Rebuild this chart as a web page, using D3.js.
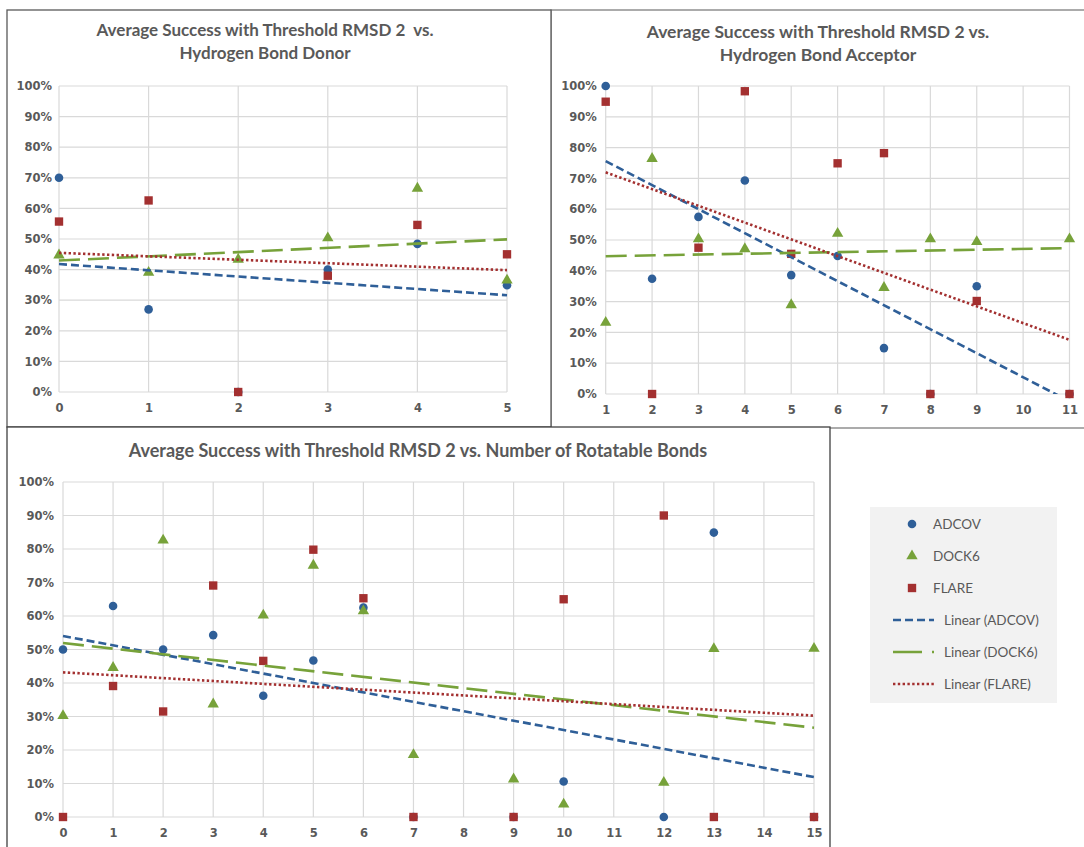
<!DOCTYPE html>
<html>
<head>
<meta charset="utf-8">
<script src="https://cdn.jsdelivr.net/npm/d3@7"></script>
<style>
  body { margin: 0; background: #fff; }
  svg { display: block; }
</style>
</head>
<body>
<svg id="chart" width="1084" height="847"></svg>
<script>
// values (percent)
var seriesNames = ["ADCOV", "DOCK6", "FLARE"];
var yTicks = [0, 10, 20, 30, 40, 50, 60, 70, 80, 90, 100];

var donorTicks = [0, 1, 2, 3, 4, 5];
var donorX = [0, 1, 2, 3, 4, 5];
var donorAdcov = [70, 27, 0, 40, 48.4, 34.9];
var donorDock6 = [44.4, 38.7, 43, 50, 66.2, 36.2];
var donorFlare = [55.7, 62.6, 0, 38, 54.6, 45];

var acceptorTicks = [1, 2, 3, 4, 5, 6, 7, 8, 9, 10, 11];
var acceptorX = [1, 2, 3, 4, 5, 6, 7, 8, 9, 11];
var acceptorAdcov = [100, 37.4, 57.5, 69.3, 38.6, 44.8, 14.9, 0, 35, 0];
var acceptorDock6 = [22.9, 76.1, 50, 46.8, 28.6, 51.8, 34.2, 50, 49.1, 50];
var acceptorFlare = [94.9, 0, 47.5, 98.3, 45.5, 74.9, 78.2, 0, 30.2, 0];

var rotTicks = [0, 1, 2, 3, 4, 5, 6, 7, 8, 9, 10, 11, 12, 13, 14, 15];
var rotX = [0, 1, 2, 3, 4, 5, 6, 7, 9, 10, 12, 13, 15];
var rotAdcov = [50, 63, 50, 54.3, 36.2, 46.7, 62.5, 0, 0, 10.6, 0, 84.9, 0];
var rotDock6 = [29.9, 44.3, 82.3, 33.4, 59.9, 74.8, 61.2, 18.3, 11, 3.5, 10, 49.9, 50];
var rotFlare = [0, 39.1, 31.5, 69.1, 46.6, 79.8, 65.3, 0, 0, 65, 90, 0, 0];

var colors = { ADCOV: "#2f5f98", DOCK6: "#77a23a", FLARE: "#a33030" };
var symbols = { ADCOV: d3.symbolCircle, DOCK6: d3.symbolTriangle, FLARE: d3.symbolSquare };
var symbolSizes = { ADCOV: 58, DOCK6: 56, FLARE: 70 };
var dashes = { ADCOV: "8,4", DOCK6: "21,8", FLARE: "2.4,2.4" };
var textGray = "#595959";

var svg = d3.select("#chart");

// panel frames
svg.append("rect").attr("x", 551).attr("y", 10).attr("width", 600).attr("height", 418)
  .attr("fill", "#fff").attr("stroke", "#7f7f7f").attr("stroke-width", 1.3);
svg.append("rect").attr("x", 7).attr("y", 10).attr("width", 544).attr("height", 417)
  .attr("fill", "#fff").attr("stroke", "#595959").attr("stroke-width", 1.3);
svg.append("rect").attr("x", 7).attr("y", 427).attr("width", 823).attr("height", 440)
  .attr("fill", "#fff").attr("stroke", "#404040").attr("stroke-width", 1.3);

function linReg(xs, ys) {
  var mx = d3.mean(xs), my = d3.mean(ys), sxy = 0, sxx = 0;
  xs.forEach(function(x, i) {
    sxy += (x - mx) * (ys[i] - my);
    sxx += (x - mx) * (x - mx);
  });
  var slope = sxy / sxx;
  return { slope: slope, intercept: my - slope * mx };
}

function drawPanel(cfg) {
  var x = d3.scaleLinear().domain(cfg.xDomain).range([cfg.left, cfg.right]);
  var y = d3.scaleLinear().domain([0, 100]).range([cfg.bottom, cfg.top]);
  var g = svg.append("g");

  // gridlines
  g.selectAll("line.hgrid").data(yTicks).enter().append("line")
    .attr("x1", cfg.left).attr("x2", cfg.right)
    .attr("y1", function(d) { return y(d); }).attr("y2", function(d) { return y(d); })
    .attr("stroke", "#d9d9d9").attr("stroke-width", 1.2);
  g.selectAll("line.vgrid").data(cfg.xTicks).enter().append("line")
    .attr("y1", cfg.top).attr("y2", cfg.bottom)
    .attr("x1", function(d) { return x(d); }).attr("x2", function(d) { return x(d); })
    .attr("stroke", "#d9d9d9").attr("stroke-width", 1.2);

  // axes (labels only)
  var yAxis = g.append("g").attr("transform", "translate(" + cfg.left + ",0)")
    .call(d3.axisLeft(y).tickValues(yTicks).tickSize(0).tickPadding(cfg.yPad)
      .tickFormat(function(d) { return d + "%"; }));
  var xAxis = g.append("g").attr("transform", "translate(0," + cfg.bottom + ")")
    .call(d3.axisBottom(x).tickValues(cfg.xTicks).tickSize(0).tickPadding(cfg.xPad)
      .tickFormat(d3.format("d")));
  [yAxis, xAxis].forEach(function(a) {
    a.select(".domain").remove();
    a.selectAll("text").attr("fill", textGray)
      .style("font-family", "'DejaVu Sans'").style("font-weight", "bold").style("font-size", "11.5px");
  });

  // title (keeps the double space of the original)
  var title = g.append("text").attr("text-anchor", "middle")
    .attr("fill", textGray).style("font-family", "Lato").style("font-weight", "bold")
    .style("font-size", cfg.titleSize + "px").style("white-space", "pre");
  cfg.title.forEach(function(line, i) {
    title.append("tspan").attr("x", cfg.titleX).attr("y", cfg.titleY + i * 23).text(line);
  });

  var clipId = "clip" + cfg.id;
  svg.append("clipPath").attr("id", clipId).append("rect")
    .attr("x", cfg.left - 6).attr("y", cfg.top - 6)
    .attr("width", cfg.right - cfg.left + 12).attr("height", cfg.bottom - cfg.top + 6);

  // markers
  seriesNames.forEach(function(name, si) {
    var vals = cfg.values[si];
    g.selectAll("path.m" + name).data(cfg.xs).enter().append("path")
      .attr("d", d3.symbol().type(symbols[name]).size(symbolSizes[name]))
      .attr("transform", function(d, i) {
        var dy = name === "DOCK6" ? 1 : 0;
        return "translate(" + x(d) + "," + (y(vals[i]) - dy) + ")";
      })
      .attr("fill", colors[name]);
  });

  // linear trendlines
  var lines = g.append("g").attr("clip-path", "url(#" + clipId + ")");
  seriesNames.forEach(function(name, si) {
    var r = linReg(cfg.xs, cfg.values[si]);
    var ends = d3.extent(cfg.xs);
    lines.append("line")
      .attr("x1", x(ends[0])).attr("y1", y(r.intercept + r.slope * ends[0]))
      .attr("x2", x(ends[1])).attr("y2", y(r.intercept + r.slope * ends[1]))
      .attr("stroke", colors[name]).attr("stroke-width", 2.6)
      .attr("stroke-dasharray", dashes[name]);
  });
}

drawPanel({
  id: 1, left: 59, right: 507, top: 86, bottom: 392, yPad: 7, xPad: 12,
  xDomain: [0, 5], xTicks: donorTicks, xs: donorX,
  values: [donorAdcov, donorDock6, donorFlare],
  title: ["Average Success with Threshold RMSD 2  vs.", "Hydrogen Bond Donor"],
  titleX: 265, titleY: 36, titleSize: 17
});

drawPanel({
  id: 2, left: 605.7, right: 1069.5, top: 86, bottom: 394, yPad: 9, xPad: 12,
  xDomain: [1, 11], xTicks: acceptorTicks, xs: acceptorX,
  values: [acceptorAdcov, acceptorDock6, acceptorFlare],
  title: ["Average Success with Threshold RMSD 2 vs.", "Hydrogen Bond Acceptor"],
  titleX: 818, titleY: 38, titleSize: 17.5
});

drawPanel({
  id: 3, left: 63, right: 814, top: 482, bottom: 817, yPad: 9, xPad: 12,
  xDomain: [0, 15], xTicks: rotTicks, xs: rotX,
  values: [rotAdcov, rotDock6, rotFlare],
  title: ["Average Success with Threshold RMSD 2 vs. Number of Rotatable Bonds"],
  titleX: 418, titleY: 457, titleSize: 18
});

// legend
var legend = svg.append("g");
legend.append("rect").attr("x", 870).attr("y", 507).attr("width", 187).attr("height", 196)
  .attr("fill", "#f2f2f2");
var legendFont = function(sel) {
  sel.attr("fill", textGray).style("font-family", "Lato").style("font-size", "13.5px");
};
seriesNames.forEach(function(name, i) {
  var cy = 524 + i * 32;
  legend.append("path")
    .attr("d", d3.symbol().type(symbols[name]).size(symbolSizes[name]))
    .attr("transform", "translate(912," + cy + ")").attr("fill", colors[name]);
  legend.append("text").attr("x", 933).attr("y", cy + 5).text(name).call(legendFont);
});
seriesNames.forEach(function(name, i) {
  var cy = 620 + i * 32;
  legend.append("line").attr("x1", 893).attr("x2", 934).attr("y1", cy).attr("y2", cy)
    .attr("stroke", colors[name]).attr("stroke-width", 2.6)
    .attr("stroke-dasharray", name === "DOCK6" ? "29,10" : dashes[name]);
  legend.append("text").attr("x", 944).attr("y", cy + 5).text("Linear (" + name + ")").call(legendFont);
});
</script>
</body>
</html>
